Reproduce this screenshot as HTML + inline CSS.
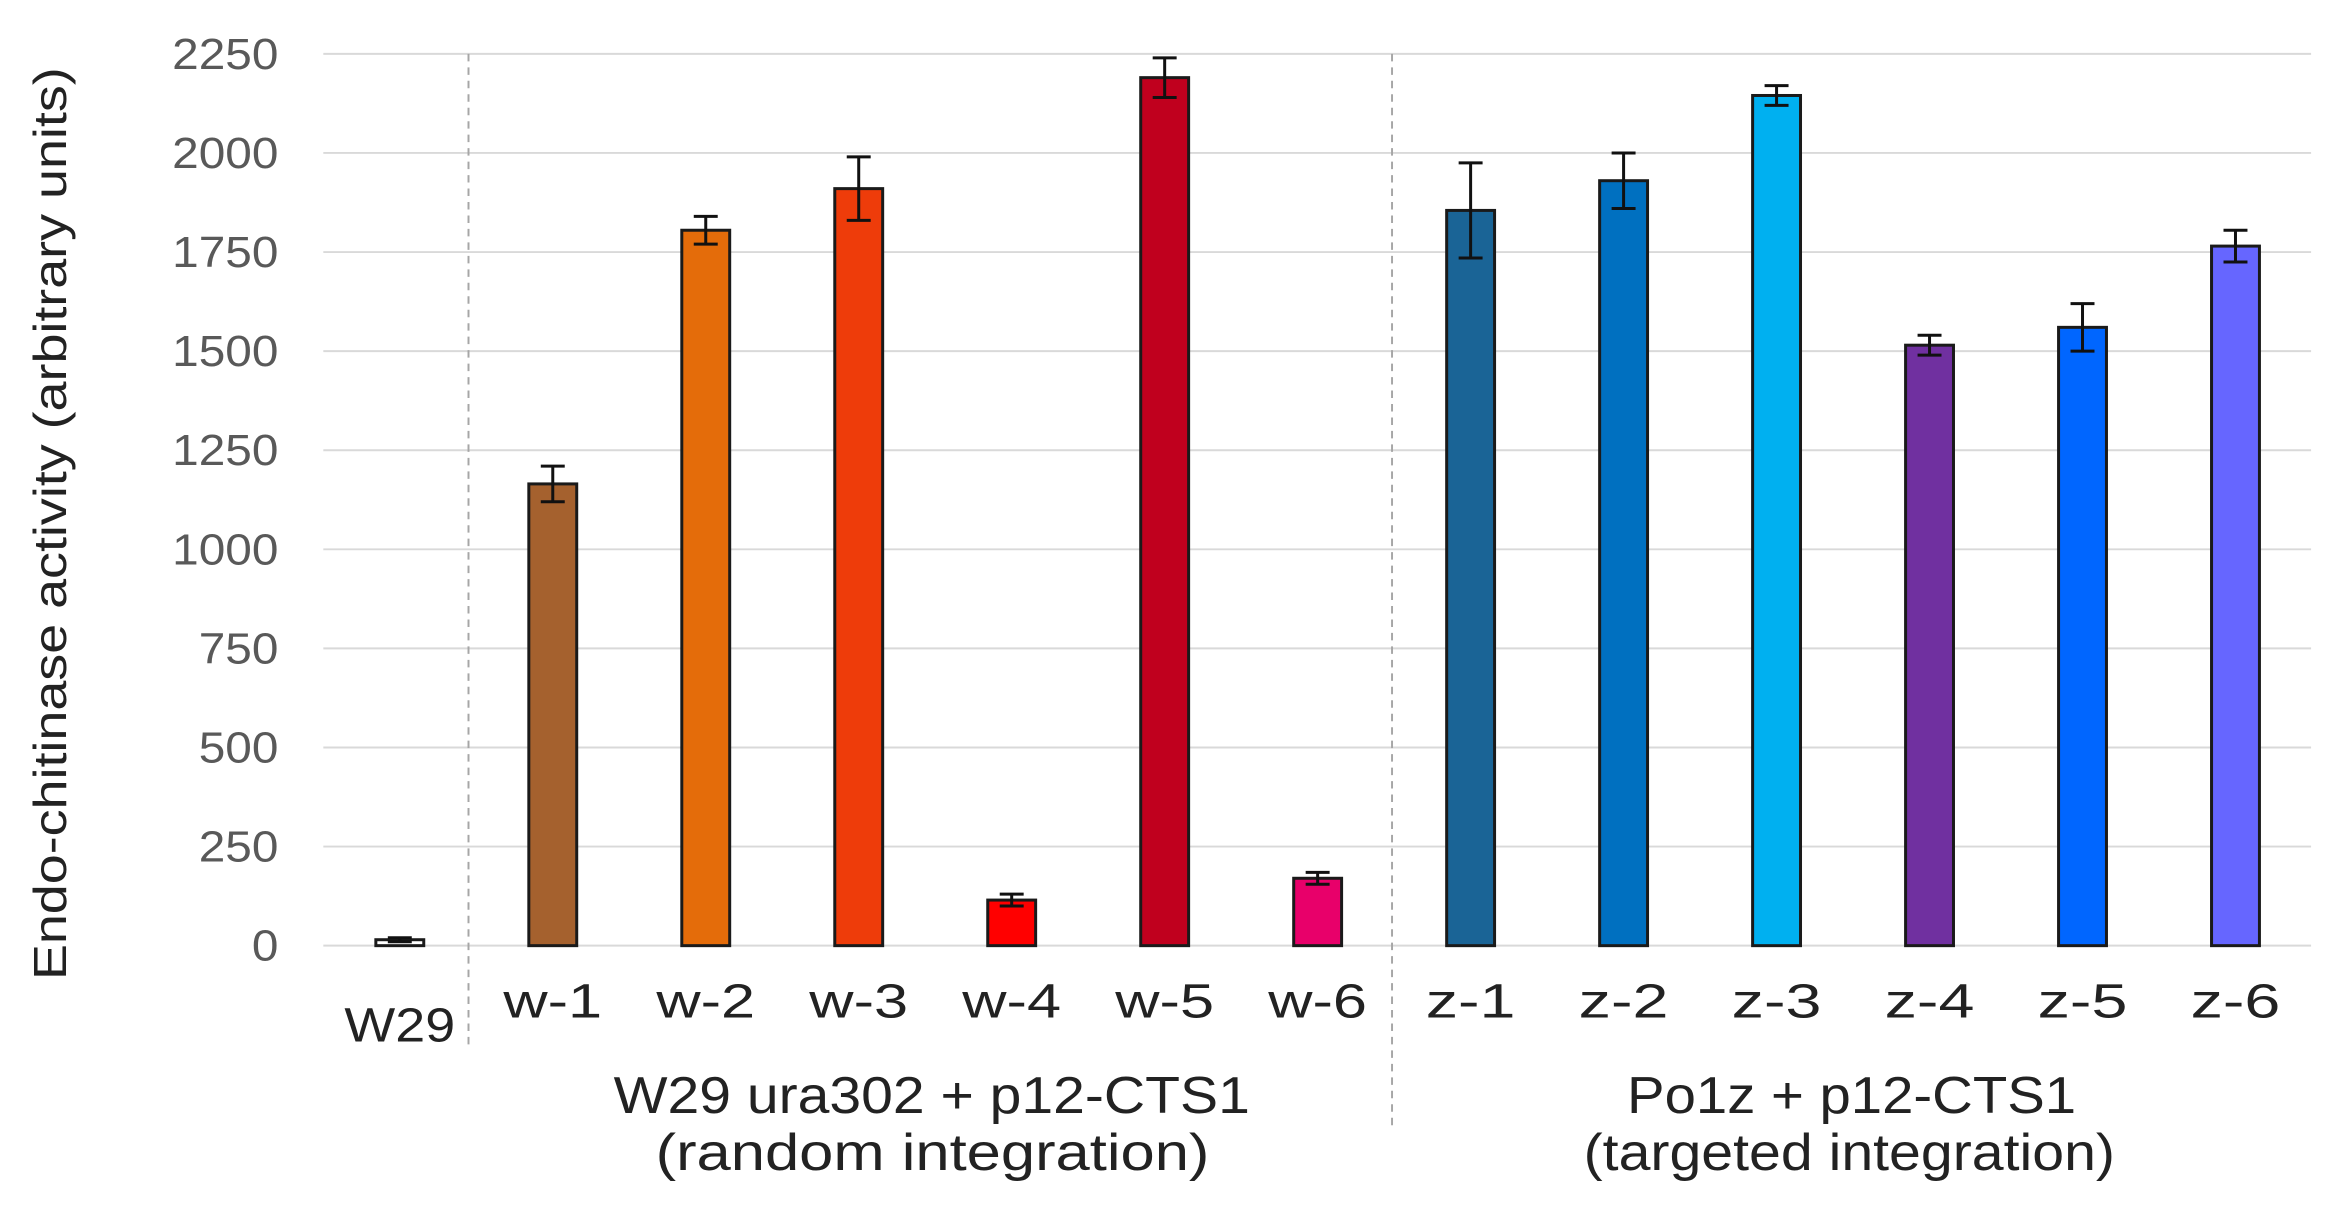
<!DOCTYPE html>
<html><head><meta charset="utf-8"><style>
html,body{margin:0;padding:0;background:#fff}
svg{display:block}
text{font-family:"Liberation Sans",Arial,sans-serif}
</style></head><body>
<svg id="chart" width="2347" height="1212" viewBox="0 0 1568 810" preserveAspectRatio="none" xmlns="http://www.w3.org/2000/svg">
<g id="grid"></g>
<g id="yticks"></g>
<line x1="313" y1="36" x2="313" y2="700" stroke="#a6a6a6" stroke-width="1.3" stroke-dasharray="5,4"/>
<line x1="930" y1="36" x2="930" y2="756" stroke="#a6a6a6" stroke-width="1.3" stroke-dasharray="5,4"/>
<g id="bars"></g>
<g id="xlabels"></g>
<text transform="translate(44,350) rotate(-90)" text-anchor="middle" font-size="31" fill="#222" textLength="610" lengthAdjust="spacingAndGlyphs">Endo-chitinase activity (arbitrary units)</text>
<text x="410" y="744" font-size="35" fill="#222" textLength="425" lengthAdjust="spacingAndGlyphs">W29 ura302 + p12-CTS1</text>
<text x="438" y="782" font-size="35" fill="#222" textLength="370" lengthAdjust="spacingAndGlyphs">(random integration)</text>
<text x="1087" y="744" font-size="35" fill="#222" textLength="300" lengthAdjust="spacingAndGlyphs">Po1z + p12-CTS1</text>
<text x="1058" y="782" font-size="35" fill="#222" textLength="355" lengthAdjust="spacingAndGlyphs">(targeted integration)</text>
</svg>
<script>
const categories = ["W29","w-1","w-2","w-3","w-4","w-5","w-6","z-1","z-2","z-3","z-4","z-5","z-6"];
const values = [15,1165,1805,1910,115,2190,170,1855,1930,2145,1515,1560,1765];
const errors = [5,45,35,80,15,50,15,120,70,25,25,60,40];
const colors = ["#ffffff","#A5612E","#E46C0A","#EE3C0A","#FF0000","#C0001E","#E8006A","#1A6496","#0070C0","#00B0F0","#7030A0","#0066FF","#6666FF"];
const yTicks = [0,250,500,750,1000,1250,1500,1750,2000,2250];
const NS = "http://www.w3.org/2000/svg";
const x0 = 216, step = 102.2, yZero = 632, yTop = 36, yMax = 2250, bw = 32;
const xPos = i => x0 + step * (i + 0.5);
const yPos = v => yZero - (v / yMax) * (yZero - yTop);
function mk(tag, attrs, parent) { const e = document.createElementNS(NS, tag); for (const k in attrs) e.setAttribute(k, attrs[k]); parent.appendChild(e); return e; }
const grid = document.getElementById('grid'), yt = document.getElementById('yticks');
yTicks.forEach(t => {
  const l = mk('line', {x1: 216, x2: 1544, y1: yPos(t), y2: yPos(t), stroke: '#d9d9d9', 'stroke-width': 1.3}, grid);
  
  
  const s = String(t);
  const tx = mk('text', {x: 186, y: yPos(t) + 10, 'text-anchor': 'end', 'font-size': 29, fill: '#595959', textLength: 17.75 * s.length, lengthAdjust: 'spacingAndGlyphs'}, yt);
  tx.textContent = s;
  
  
});
const bars = document.getElementById('bars'), xl = document.getElementById('xlabels');
categories.forEach((c, i) => {
  const cx = xPos(i), top = yPos(values[i]);
  const r = mk('rect', {x: cx - bw / 2, y: top, width: bw, height: yZero - top, fill: colors[i], stroke: '#1a1a1a', 'stroke-width': 2}, bars);
  
  
  const hi = yPos(values[i] + errors[i]), lo = yPos(values[i] - errors[i]);
  const eb = mk('path', {d: `M${cx},${hi}V${lo}M${cx - 8},${hi}H${cx + 8}M${cx - 8},${lo}H${cx + 8}`, stroke: '#111', 'stroke-width': 2, fill: 'none'}, bars);
  
  
  const len = i === 0 ? 74 : (c[0] === 'z' ? 60 : 66);
  const t = mk('text', {x: cx, y: i === 0 ? 696 : 680, 'text-anchor': 'middle', 'font-size': 32, fill: '#222', textLength: len, lengthAdjust: 'spacingAndGlyphs'}, xl);
  t.textContent = c;
  
  
});
</script>
</body></html>
